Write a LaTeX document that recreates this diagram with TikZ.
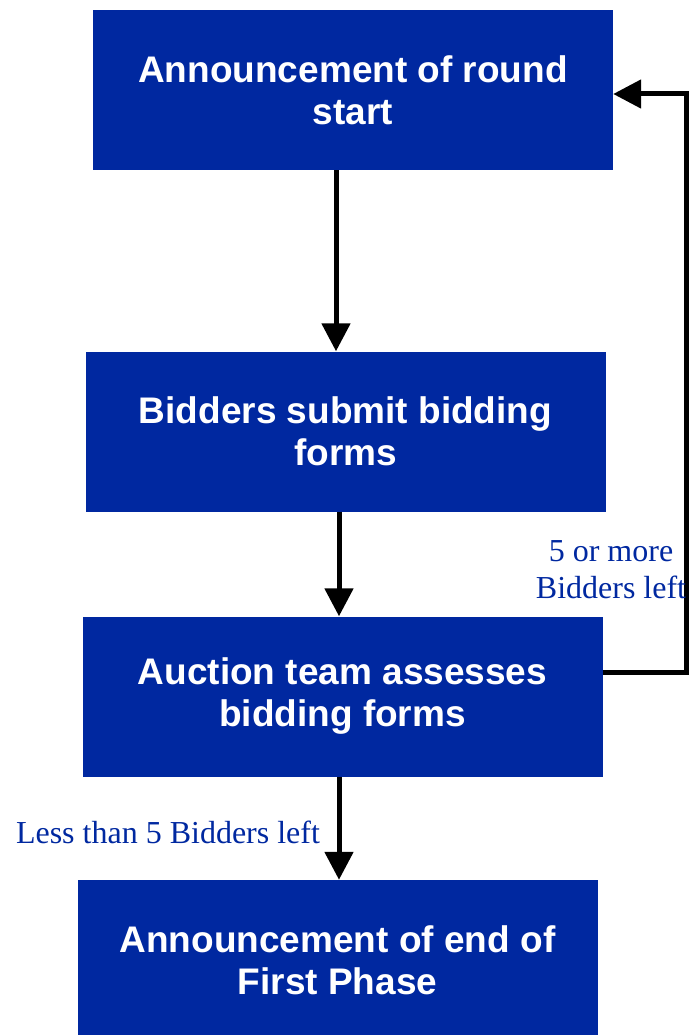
\documentclass[tikz,border=0pt]{standalone}
\usepackage{fontspec}
\setmainfont{Liberation Serif}
\newfontfamily\boxfont{Liberation Sans}
\usetikzlibrary{arrows.meta}

\definecolor{auctionblue}{RGB}{0,40,160}

\tikzset{
  stage/.style={fill=auctionblue,text=white,minimum width=520pt,minimum height=160pt,
    inner sep=0pt,align=center,font=\boxfont\bfseries\fontsize{37}{42}\selectfont},
  flow/.style={line width=5pt,-{Triangle[length=28pt,width=28pt]}},
  note/.style={text=auctionblue,align=center,font=\fontsize{32}{37}\selectfont}
}

\begin{document}
\begin{tikzpicture}[x=1pt,y=-1pt]
\useasboundingbox (0,0) rectangle (688,1035);
\node [stage] (start) at (353,90) {Announcement of round\\start};
\node [stage] (submit) at (345.5,431.5) {Bidders submit bidding\\forms};
\node [stage] (assess) at (342.5,696.5) {Auction team assesses\\bidding forms};
\node [stage] (finish) at (337.5,960) {Announcement of end of\\First Phase};
\coordinate (corner) at (686,94);

\draw [flow] ([xshift=-17pt]start.south) -- ([xshift=-9.5pt]submit.north);
\draw [flow] ([xshift=-6.5pt]submit.south) -- ([xshift=-3.5pt]assess.north);
\draw [flow] ([xshift=-3.5pt]assess.south) -- ([xshift=1.5pt]finish.north);
\draw [flow] ([yshift=24.5pt]assess.east) -| (corner) -- (corner -| start.east);

\node [note] (more) at (611,570) {5 or more\\Bidders left};
\node [note] (less) at (168,832) {Less than 5 Bidders left};
\end{tikzpicture}
\end{document}
